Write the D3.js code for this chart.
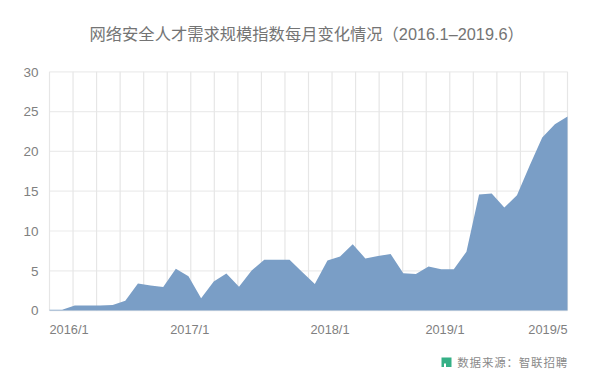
<!DOCTYPE html>
<html><head><meta charset="utf-8">
<script src="https://cdnjs.cloudflare.com/ajax/libs/d3/7.8.5/d3.min.js"></script>
<style>html,body{margin:0;padding:0;background:#fff}svg{display:block}
text{font-family:"Liberation Sans","Noto Sans CJK SC",sans-serif}
.cjk{font-family:"Noto Sans CJK SC",sans-serif}
.num{font-family:"Liberation Sans",sans-serif}</style></head><body>
<div id="c"></div>
<script>
const titleCjk = "网络安全人才需求规模指数每月变化情况";
const titleRange = "（2016.1–2019.6）";
const source = "数据来源：智联招聘";
const months = ["2016/1","2016/2","2016/3","2016/4","2016/5","2016/6","2016/7","2016/8","2016/9","2016/10","2016/11","2016/12",
 "2017/1","2017/2","2017/3","2017/4","2017/5","2017/6","2017/7","2017/8","2017/9","2017/10","2017/11","2017/12",
 "2018/1","2018/2","2018/3","2018/4","2018/5","2018/6","2018/7","2018/8","2018/9","2018/10","2018/11","2018/12",
 "2019/1","2019/2","2019/3","2019/4","2019/5","2019/6"];
const values = [0.1,0.1,0.65,0.65,0.65,0.7,1.25,3.4,3.15,2.95,5.25,4.3,
 1.55,3.65,4.65,3.0,5.05,6.4,6.4,6.4,4.85,3.35,6.3,6.8,
 8.35,6.55,6.85,7.1,4.7,4.6,5.55,5.2,5.2,7.4,14.6,14.7,
 12.95,14.5,18.2,21.75,23.4,24.4];
const yTicks = [0,5,10,15,20,25,30];
const xLabels = ["2016/1","2017/1","2018/1","2019/1","2019/5"];
const xLabelSlots = [0,11.1,22.2,31.3,41];
const xLabelAnchors = ["start","middle","middle","middle","end"];
const gridSlots = d3.range(23);

const W=600,H=381,L=49.5,R=567.5,T=71.8,B=310.6;
const svg=d3.select("#c").append("svg").attr("width",W).attr("height",H);
const x=d3.scaleLinear().domain([0,months.length-1]).range([L,R]);
const gx=d3.scaleLinear().domain([0,22]).range([L,R]);
const y=d3.scaleLinear().domain([0,30]).range([B,T]);

svg.append("g").selectAll("line").data(yTicks).join("line")
 .attr("x1",L).attr("x2",R).attr("y1",d=>y(d)).attr("y2",d=>y(d))
 .attr("stroke","#ececec").attr("stroke-width",1.2);
svg.append("g").selectAll("line").data(gridSlots).join("line")
 .attr("x1",d=>gx(d)).attr("x2",d=>gx(d)).attr("y1",T).attr("y2",B)
 .attr("stroke","#e6e6e6").attr("stroke-width",1.2);

svg.append("path").datum(values)
 .attr("d",d3.area().x((d,i)=>x(i)).y0(y(0)).y1(d=>y(d)))
 .attr("fill","#7a9ec6");

svg.append("g").selectAll("text").data(yTicks).join("text").attr("class","num")
 .attr("x",38.5).attr("y",d=>y(d)+4.8).attr("text-anchor","end")
 .attr("font-size",13.5).attr("fill","#808080").text(d=>d);
svg.append("g").selectAll("text").data(xLabels).join("text").attr("class","num")
 .attr("x",(d,i)=>x(xLabelSlots[i])).attr("y",333.5)
 .attr("text-anchor",(d,i)=>xLabelAnchors[i])
 .attr("font-size",12.8).attr("fill","#808080").text(d=>d);

const t=svg.append("text").attr("x",89.5).attr("y",40).attr("fill","#747474");
t.append("tspan").attr("class","cjk").attr("font-size",16.3).text(titleCjk);
t.append("tspan").attr("font-size",16.3).text(titleRange);

svg.append("rect").attr("x",441.5).attr("y",357.5).attr("width",10).attr("height",9.5).attr("fill","#35b086");
svg.append("rect").attr("x",444).attr("y",363.5).attr("width",2).attr("height",3.5).attr("fill","#fff");
svg.append("text").attr("class","cjk").attr("x",568).attr("y",366.5).attr("text-anchor","end")
 .attr("font-size",11.5).attr("letter-spacing",0.8).attr("fill","#8a8a8a").text(source);
</script></body></html>
